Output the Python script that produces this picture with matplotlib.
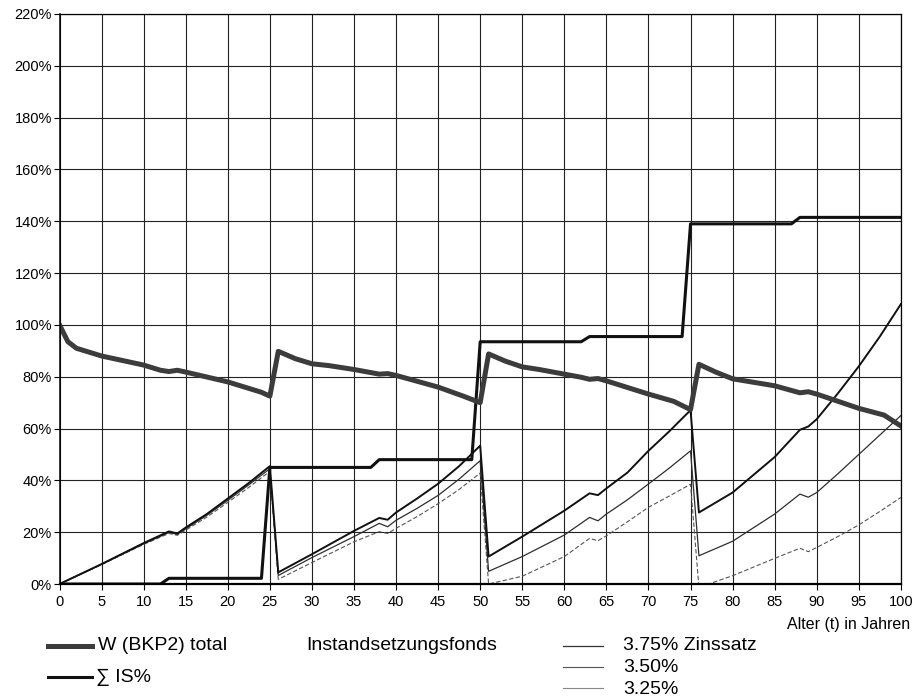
import matplotlib
matplotlib.use("Agg")
import matplotlib.pyplot as plt
from matplotlib.lines import Line2D

plt.rcParams["font.family"] = ["Liberation Sans", "DejaVu Sans"]

# W (BKP2) total
w_t = [0, 1, 2, 5, 10, 12, 13, 14, 15, 20, 24, 25, 26, 28, 30, 32, 35, 38, 39, 40,
       45, 48, 50, 51, 53, 55, 57, 60, 62, 63, 64, 65, 70, 73, 75, 76, 78, 80, 85,
       88, 89, 90, 95, 98, 100]
w_val = [100, 93.5, 91, 88, 84.5, 82.5, 82, 82.5, 81.8, 78, 74, 72.5, 89.8, 87, 85,
         84.3, 82.8, 81, 81.2, 80.5, 76, 72.5, 70, 88.8, 86, 83.8, 82.8, 81, 79.8, 79,
         79.3, 78.4, 73.3, 70.5, 67.3, 84.8, 81.8, 79.2, 76.5, 73.8, 74.2, 73.3, 67.8,
         65.2, 61]

# Summe IS%
is_t = [0, 12, 13, 24, 25, 37, 38, 49, 50, 62, 63, 74, 75, 87, 88, 100]
is_val = [0, 0, 2.2, 2.2, 45, 45, 48, 48, 93.5, 93.5, 95.5, 95.5, 139, 139, 141.5, 141.5]

# Instandsetzungsfonds
f_t = [0, 5, 10, 13, 14, 15, 17.5, 20, 22.5, 25, 26, 30, 35, 38, 39, 40, 42.5, 45,
       47.5, 50, 51, 55, 60, 63, 64, 65, 67.5, 70, 72.5, 75, 76, 80, 85, 88, 89, 90,
       92.5, 95, 97.5, 100]
f375 = [0, 7.7, 15.8, 20.3, 19.5, 21.8, 27, 33, 39, 45.5, 4.5, 11.5, 20.5, 25.5, 24.8,
        27.6, 33, 38.7, 45.5, 53.4, 10.6, 18.3, 28.3, 35, 34.3, 36.9, 43, 51.4, 59, 67.1,
        27.6, 35.3, 49, 59.5, 60.8, 63.6, 73.5, 84, 95.5, 108]
f350 = [0, 7.6, 15.5, 19.9, 19.2, 21.3, 26.5, 32.3, 38.3, 44.5, 3.3, 10.2, 18.3, 23.4,
        22.1, 24.6, 29.2, 34.2, 40.5, 47.6, 4.9, 10.6, 18.9, 25.7, 24.4, 27, 32.5, 38.6,
        44.8, 51.4, 10.9, 16.5, 27, 34.7, 33.5, 35.3, 42.5, 50, 57.5, 65]
f325 = [0, 7.5, 15.3, 19.5, 18.8, 20.8, 25.8, 31.5, 37.3, 43.5, 1.8, 8.3, 16.3, 20.2,
        19.5, 21.5, 26, 31, 36.5, 42.8, 0, 3, 10.6, 17.6, 16.7, 18.6, 24, 29.6, 34, 38.5,
        -1.3, 3.2, 9.9, 13.8, 12.5, 14.1, 18.3, 22.8, 28, 33.4]

x_ticks = list(range(0, 101, 5))
y_ticks = list(range(0, 221, 20))

fig = plt.figure(figsize=(9.23, 6.99), dpi=100)
ax = fig.add_axes([0.0645, 0.1645, 0.9115, 0.8155])

ax.plot(f_t, f325, color="#555555", lw=0.8, ls=(0, (4, 2)))
ax.plot(f_t, f350, color="#2e2e2e", lw=0.9)
ax.plot(f_t, f375, color="#111111", lw=1.4)
ax.plot(is_t, is_val, color="#111111", lw=2.2)
ax.plot(w_t, w_val, color="#3c3c3c", lw=3.6, solid_joinstyle="round")

ax.set_xlim(0, 100)
ax.set_ylim(0, 220)
ax.set_xticks(x_ticks)
ax.set_yticks(y_ticks)
ax.set_yticklabels([f"{v}%" for v in y_ticks])
ax.grid(True, color="#222222", lw=0.8)
ax.set_axisbelow(True)
ax.tick_params(direction="out", length=4, width=0.8, labelsize=10.5)
ax.tick_params(axis="y", pad=1.5)
ax.tick_params(axis="x", pad=4)
for s in ax.spines.values():
    s.set_linewidth(0.9)
ax.spines["bottom"].set_linewidth(1.6)
ax.spines["left"].set_linewidth(1.1)

fig.text(910 / 923, 1 - 625 / 699, "Alter (t) in Jahren", ha="right", va="center", fontsize=11.5)

# legend drawn by hand below the axes
def sample(x0, x1, y, **kw):
    fig.add_artist(Line2D([x0 / 923, x1 / 923], [1 - y / 699, 1 - y / 699],
                          transform=fig.transFigure, **kw))

def label(x, y, s):
    fig.text(x / 923, 1 - y / 699, s, ha="left", va="center", fontsize=14)

sample(48, 92, 646, color="#3c3c3c", lw=3.6)
label(98, 646, "W (BKP2) total")
sample(48, 92, 677, color="#111111", lw=2.2)
label(96, 677, "∑ IS%")
label(306, 646, "Instandsetzungsfonds")
sample(563, 603, 646, color="#333333", lw=0.9)
label(623, 646, "3.75% Zinssatz")
sample(563, 603, 667, color="#555555", lw=0.8)
label(623, 668, "3.50%")
sample(563, 603, 688, color="#888888", lw=0.8)
label(623, 690, "3.25%")

fig.savefig("out.png", dpi=100)
